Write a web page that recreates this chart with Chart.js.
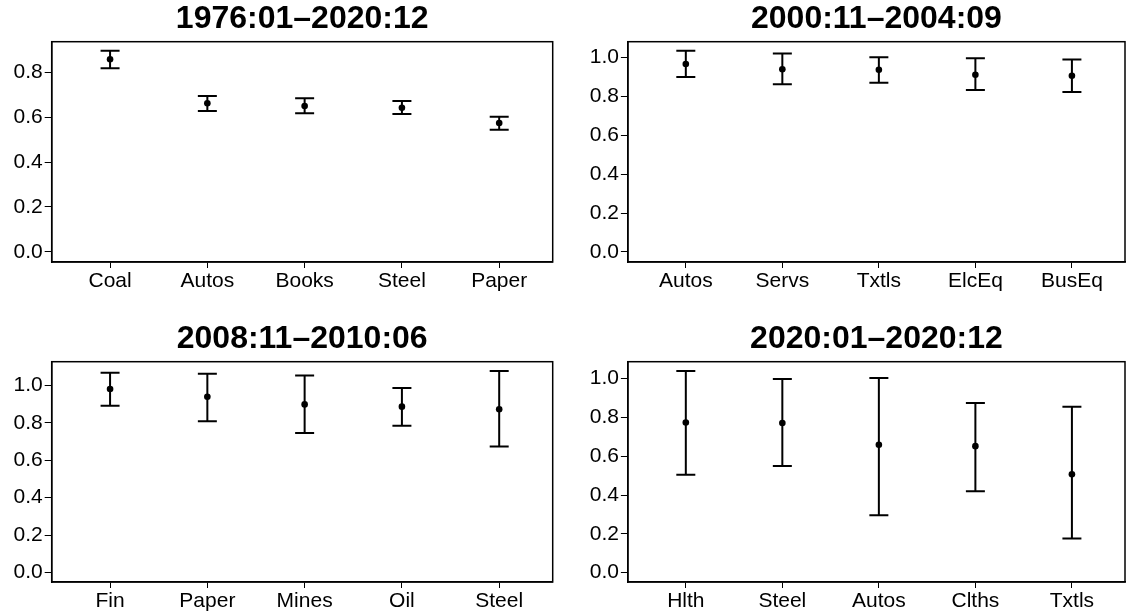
<!DOCTYPE html>
<html>
<head>
<meta charset="utf-8">
<script src="https://cdn.jsdelivr.net/npm/chart.js@4/dist/chart.umd.min.js"></script>
<style>
  html, body { margin: 0; padding: 0; background: #fff; }
  #wrap { position: relative; width: 1129px; height: 614px; overflow: hidden; }
  #wrap canvas { position: absolute; }
</style>
</head>
<body>
<div id="wrap">
  <canvas id="c1" width="560" height="300" style="left:0;top:0"></canvas>
  <canvas id="c2" width="569" height="300" style="left:560px;top:0"></canvas>
  <canvas id="c3" width="560" height="300" style="left:0;top:320px"></canvas>
  <canvas id="c4" width="569" height="300" style="left:560px;top:320px"></canvas>
</div>
<script>
// Panel titles (sample periods)
const titles = ['1976:01\u20132020:12', '2000:11\u20132004:09', '2008:11\u20132010:06', '2020:01\u20132020:12'];

// Panel 1: 1976:01–2020:12
const cats1 = ['Coal', 'Autos', 'Books', 'Steel', 'Paper'];
const est1  = [0.858, 0.662, 0.650, 0.642, 0.574];
const lo1   = [0.818, 0.627, 0.617, 0.614, 0.544];
const hi1   = [0.896, 0.694, 0.684, 0.672, 0.602];

// Panel 2: 2000:11–2004:09
const cats2 = ['Autos', 'Servs', 'Txtls', 'ElcEq', 'BusEq'];
const est2  = [0.967, 0.940, 0.937, 0.912, 0.907];
const lo2   = [0.900, 0.863, 0.871, 0.834, 0.823];
const hi2   = [1.036, 1.021, 1.002, 0.997, 0.990];

// Panel 3: 2008:11–2010:06
const cats3 = ['Fin', 'Paper', 'Mines', 'Oil', 'Steel'];
const est3  = [0.980, 0.939, 0.898, 0.886, 0.872];
const lo3   = [0.891, 0.808, 0.745, 0.784, 0.673];
const hi3   = [1.067, 1.062, 1.053, 0.986, 1.077];

// Panel 4: 2020:01–2020:12
const cats4 = ['Hlth', 'Steel', 'Autos', 'Clths', 'Txtls'];
const est4  = [0.774, 0.771, 0.659, 0.652, 0.507];
const lo4   = [0.504, 0.550, 0.296, 0.420, 0.176];
const hi4   = [1.039, 0.998, 1.003, 0.874, 0.855];

// y-axis tick values
const yTicks1 = [0.0, 0.2, 0.4, 0.6, 0.8];
const yTicks  = [0.0, 0.2, 0.4, 0.6, 0.8, 1.0];

Chart.defaults.font.family = "'Liberation Sans', Arial, Helvetica, sans-serif";
Chart.defaults.color = '#000';

const INK = '#000';

// Draws the vertical interval with end caps behind each point estimate,
// the surrounding frame and the panel title.
const intervalPlugin = {
  id: 'intervals',
  beforeDatasetsDraw(chart, args, opts) {
    const { ctx, scales: { x, y } } = chart;
    ctx.save();
    ctx.strokeStyle = INK;
    ctx.lineWidth = 2;
    ctx.lineCap = 'butt';
    const half = 9.5;
    opts.lo.forEach((lo, i) => {
      const px = x.getPixelForValue(i + 1);
      const yl = y.getPixelForValue(lo);
      const yh = y.getPixelForValue(opts.hi[i]);
      ctx.beginPath();
      ctx.moveTo(px, yl); ctx.lineTo(px, yh);
      ctx.moveTo(px - half, yl); ctx.lineTo(px + half, yl);
      ctx.moveTo(px - half, yh); ctx.lineTo(px + half, yh);
      ctx.stroke();
    });
    ctx.restore();
  },
  afterDraw(chart, args, opts) {
    const { ctx, chartArea: a } = chart;
    ctx.save();
    ctx.strokeStyle = INK;
    ctx.lineWidth = 1.5;
    ctx.strokeRect(a.left, a.top, a.right - a.left, a.bottom - a.top);
    ctx.fillStyle = INK;
    ctx.font = "bold 32px 'Liberation Sans', Arial, sans-serif";
    ctx.textAlign = 'center';
    ctx.textBaseline = 'middle';
    ctx.fillText(opts.title, (a.left + a.right) / 2, 19);
    ctx.restore();
  }
};

function buildPanel(canvasId, title, cats, est, lo, hi, yMin, yMax, ticks, axisW, rightPad) {
  new Chart(document.getElementById(canvasId), {
    type: 'scatter',
    data: {
      datasets: [{
        data: est.map((v, i) => ({ x: i + 1, y: v })),
        pointRadius: 3.3,
        pointBackgroundColor: INK,
        pointBorderWidth: 0,
        showLine: false
      }]
    },
    options: {
      responsive: false,
      animation: false,
      devicePixelRatio: 1,
      events: [],
      layout: { padding: { top: 41.7, right: rightPad, left: 0, bottom: 0 } },
      plugins: {
        legend: { display: false },
        tooltip: { enabled: false },
        intervals: { lo, hi, title }
      },
      scales: {
        x: {
          type: 'linear',
          min: 0.4,
          max: 5.55,
          afterBuildTicks: s => { s.ticks = cats.map((_, i) => ({ value: i + 1 })); },
          afterFit: s => { s.height = 38; },
          grid: { display: true, drawOnChartArea: false, drawTicks: true, tickLength: 6, color: INK, lineWidth: 1 },
          border: { display: true, color: INK, width: 1.5 },
          ticks: {
            autoSkip: false, maxRotation: 0, padding: 1,
            font: { size: 21 }, color: INK,
            callback: v => cats[v - 1]
          }
        },
        y: {
          type: 'linear',
          min: yMin,
          max: yMax,
          afterBuildTicks: s => { s.ticks = ticks.map(v => ({ value: v })); },
          afterFit: s => { s.width = axisW; },
          grid: { display: true, drawOnChartArea: false, drawTicks: true, tickLength: 7, color: INK, lineWidth: 1 },
          border: { display: true, color: INK, width: 1.5 },
          ticks: {
            autoSkip: false, padding: 2,
            font: { size: 21 }, color: INK,
            callback: v => v.toFixed(1)
          }
        }
      }
    },
    plugins: [intervalPlugin]
  });
}

buildPanel('c1', titles[0], cats1, est1, lo1, hi1, -0.045, 0.936, yTicks1, 51.7, 7.3);
buildPanel('c2', titles[1], cats2, est2, lo2, hi2, -0.052, 1.082, yTicks,  67.9, 1.5);
buildPanel('c3', titles[2], cats3, est3, lo3, hi3, -0.050, 1.126, yTicks,  51.7, 7.3);
buildPanel('c4', titles[3], cats4, est4, lo4, hi4, -0.048, 1.087, yTicks,  67.9, 1.5);
</script>
</body>
</html>
